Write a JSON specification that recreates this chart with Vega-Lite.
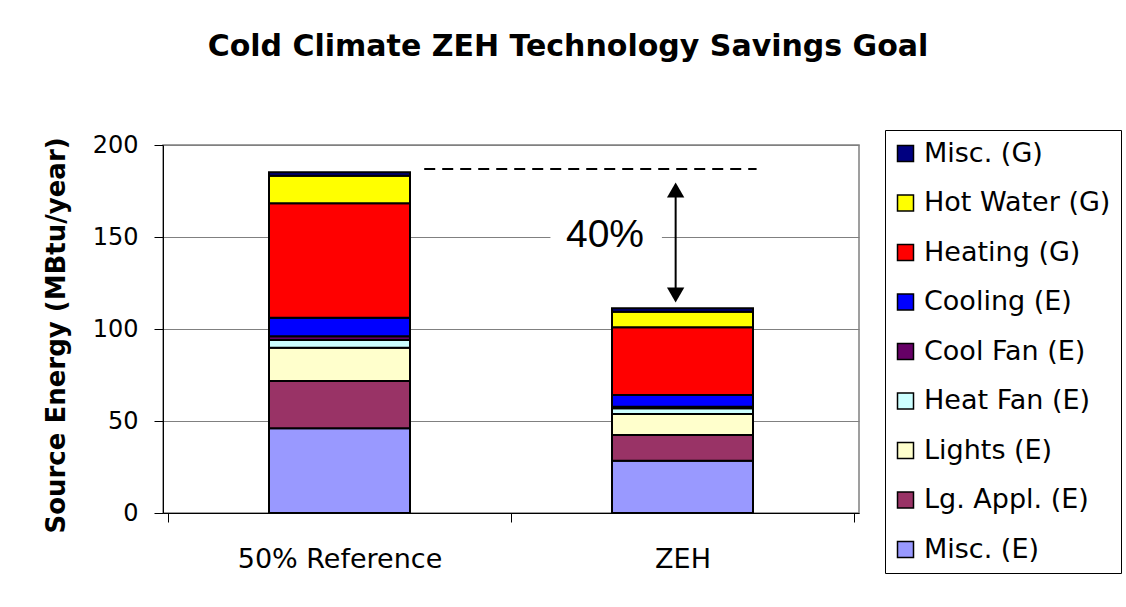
{
  "$schema": "https://vega.github.io/schema/vega-lite/v6.json",
  "autosize": {"type": "none"},
  "width": 696,
  "height": 368,
  "padding": {"left": 163, "top": 145, "right": 267, "bottom": 94},
  "background": "#ffffff",
  "title": {
    "text": "Cold Climate ZEH Technology Savings Goal",
    "font": "DejaVu Sans",
    "fontSize": 30,
    "fontWeight": "bold",
    "color": "#000000",
    "anchor": "middle",
    "baseline": "alphabetic",
    "dx": 57,
    "offset": 44
  },
  "datasets": {
    "energy": [
      {"case": "50% Reference", "pos": 0.5, "category": "Misc. (E)", "rank": 1, "value": 46.0},
      {"case": "50% Reference", "pos": 0.5, "category": "Lg. Appl. (E)", "rank": 2, "value": 25.7},
      {"case": "50% Reference", "pos": 0.5, "category": "Lights (E)", "rank": 3, "value": 18.1},
      {"case": "50% Reference", "pos": 0.5, "category": "Heat Fan (E)", "rank": 4, "value": 4.2},
      {"case": "50% Reference", "pos": 0.5, "category": "Cool Fan (E)", "rank": 5, "value": 2.0},
      {"case": "50% Reference", "pos": 0.5, "category": "Cooling (E)", "rank": 6, "value": 10.1},
      {"case": "50% Reference", "pos": 0.5, "category": "Heating (G)", "rank": 7, "value": 62.2},
      {"case": "50% Reference", "pos": 0.5, "category": "Hot Water (G)", "rank": 8, "value": 15.0},
      {"case": "50% Reference", "pos": 0.5, "category": "Misc. (G)", "rank": 9, "value": 1.9},
      {"case": "ZEH", "pos": 1.5, "category": "Misc. (E)", "rank": 1, "value": 28.4},
      {"case": "ZEH", "pos": 1.5, "category": "Lg. Appl. (E)", "rank": 2, "value": 14.0},
      {"case": "ZEH", "pos": 1.5, "category": "Lights (E)", "rank": 3, "value": 11.4},
      {"case": "ZEH", "pos": 1.5, "category": "Heat Fan (E)", "rank": 4, "value": 3.1},
      {"case": "ZEH", "pos": 1.5, "category": "Cool Fan (E)", "rank": 5, "value": 0.9},
      {"case": "ZEH", "pos": 1.5, "category": "Cooling (E)", "rank": 6, "value": 6.3},
      {"case": "ZEH", "pos": 1.5, "category": "Heating (G)", "rank": 7, "value": 36.8},
      {"case": "ZEH", "pos": 1.5, "category": "Hot Water (G)", "rank": 8, "value": 8.5},
      {"case": "ZEH", "pos": 1.5, "category": "Misc. (G)", "rank": 9, "value": 1.9}
    ],
    "labelBox": [{"xa": 1.115, "xb": 1.44, "ya": 141, "yb": 158}],
    "goalLine": [{"xa": 0.747, "xb": 1.716, "yv": 187}],
    "arrowLine": [{"xv": 1.48, "ya": 116, "yb": 178}],
    "arrowHeads": [
      {"xv": 1.48, "yv": 175.5, "dir": "up"},
      {"xv": 1.48, "yv": 118.5, "dir": "down"}
    ],
    "savings": [{"xv": 1.274, "yv": 144.4, "label": "40%"}]
  },
  "layer": [
    {
      "data": {"name": "labelBox"},
      "mark": {"type": "rect", "fill": "#ffffff"},
      "encoding": {
        "x": {"field": "xa", "type": "quantitative", "scale": {"domain": [0, 2], "nice": false, "zero": false}, "axis": null},
        "x2": {"field": "xb"},
        "y": {"field": "ya", "type": "quantitative", "title": "Source Energy (MBtu/year)"},
        "y2": {"field": "yb"}
      }
    },
    {
      "data": {"name": "energy"},
      "mark": {"type": "bar", "orient": "vertical", "size": 141, "stroke": "#000000", "strokeWidth": 2},
      "encoding": {
        "x": {
          "field": "pos",
          "type": "quantitative",
          "scale": {"domain": [0, 2], "nice": false, "zero": false},
          "axis": {
            "orient": "bottom",
            "values": [0, 1, 2],
            "labels": false,
            "tickSize": 9,
            "tickColor": "#000000",
            "domainColor": "#000000",
            "grid": false,
            "title": null
          }
        },
        "y": {
          "field": "value",
          "type": "quantitative",
          "stack": "zero",
          "title": "Source Energy (MBtu/year)",
          "scale": {"domain": [0, 200], "nice": false},
          "axis": {
            "values": [0, 50, 100, 150, 200],
            "grid": true,
            "gridColor": "#808080",
            "tickSize": 9,
            "tickColor": "#000000",
            "domainColor": "#000000",
            "labelFontSize": 24,
            "labelPadding": 16,
            "titleFontSize": 26,
            "titleFontWeight": "bold",
            "titlePadding": 23,
            "titleY": 190
          }
        },
        "color": {
          "field": "category",
          "type": "nominal",
          "scale": {
            "domain": ["Misc. (G)", "Hot Water (G)", "Heating (G)", "Cooling (E)", "Cool Fan (E)", "Heat Fan (E)", "Lights (E)", "Lg. Appl. (E)", "Misc. (E)"],
            "range": ["#000080", "#FFFF00", "#FF0000", "#0000FF", "#660066", "#CCFFFF", "#FFFFCC", "#993366", "#9999FF"]
          },
          "legend": {
            "title": null,
            "orient": "none",
            "legendX": 722,
            "legendY": -15,
            "symbolType": "square",
            "symbolSize": 256,
            "symbolStrokeColor": "#000000",
            "symbolStrokeWidth": 1.5,
            "symbolOffset": -3,
            "labelFontSize": 27,
            "labelLimit": 400,
            "labelOffset": 5,
            "rowPadding": 21.5,
            "padding": 10,
            "strokeColor": "#000000",
            "fillColor": "#ffffff"
          }
        },
        "order": {"field": "rank", "type": "quantitative"}
      }
    },
    {
      "data": {"name": "goalLine"},
      "mark": {"type": "rule", "stroke": "#000000", "strokeWidth": 2, "strokeDash": [11, 7]},
      "encoding": {
        "x": {"field": "xa", "type": "quantitative", "axis": null},
        "x2": {"field": "xb"},
        "y": {"field": "yv", "type": "quantitative", "title": "Source Energy (MBtu/year)"}
      }
    },
    {
      "data": {"name": "arrowLine"},
      "mark": {"type": "rule", "stroke": "#000000", "strokeWidth": 2},
      "encoding": {
        "x": {"field": "xv", "type": "quantitative", "axis": null},
        "y": {"field": "ya", "type": "quantitative", "title": "Source Energy (MBtu/year)"},
        "y2": {"field": "yb"}
      }
    },
    {
      "data": {"name": "arrowHeads"},
      "mark": {"type": "point", "filled": true, "color": "#000000", "opacity": 1, "size": 300},
      "encoding": {
        "x": {"field": "xv", "type": "quantitative", "axis": null},
        "y": {"field": "yv", "type": "quantitative", "title": "Source Energy (MBtu/year)"},
        "shape": {
          "field": "dir",
          "type": "nominal",
          "scale": {"domain": ["up", "down"], "range": ["triangle-up", "triangle-down"]},
          "legend": null
        }
      }
    },
    {
      "data": {"name": "savings"},
      "mark": {"type": "text", "font": "Liberation Sans", "fontSize": 39, "color": "#000000", "align": "center", "baseline": "alphabetic"},
      "encoding": {
        "x": {
          "field": "xv",
          "type": "quantitative",
          "axis": {
            "orient": "bottom",
            "values": [0.5, 1.5],
            "labelExpr": "datum.value < 1 ? '50% Reference' : 'ZEH'",
            "ticks": false,
            "domain": false,
            "grid": false,
            "labelFontSize": 27,
            "labelPadding": 33,
            "labelLimit": 400,
            "labelFlush": false,
            "labelOverlap": false,
            "title": null
          }
        },
        "y": {"field": "yv", "type": "quantitative", "title": "Source Energy (MBtu/year)"},
        "text": {"field": "label"}
      }
    }
  ],
  "resolve": {"axis": {"x": "independent"}},
  "config": {
    "font": "DejaVu Sans",
    "view": {"stroke": "#808080", "strokeWidth": 1.5},
    "axis": {
      "labelFont": "DejaVu Sans",
      "titleFont": "DejaVu Sans",
      "labelColor": "#000000",
      "titleColor": "#000000"
    },
    "legend": {
      "labelFont": "DejaVu Sans",
      "labelColor": "#000000"
    }
  }
}
